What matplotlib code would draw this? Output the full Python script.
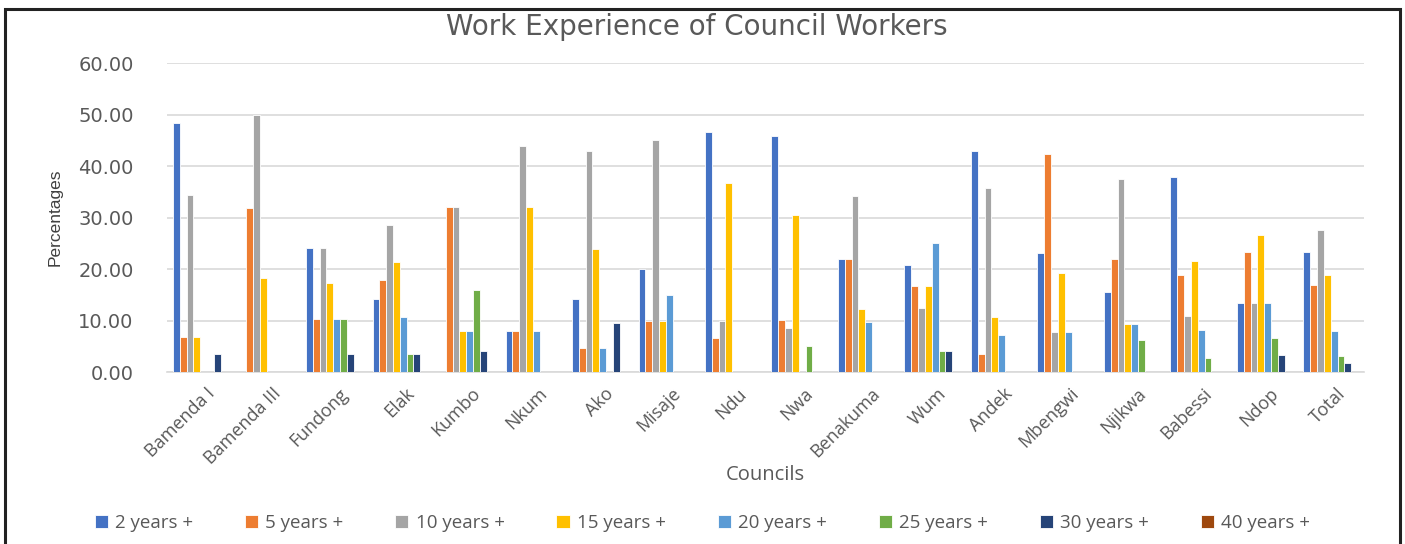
import numpy as np
import matplotlib
matplotlib.use("Agg")
import matplotlib.pyplot as plt
from matplotlib.patches import Rectangle

councils = ["Bamenda I", "Bamenda III", "Fundong", "Elak", "Kumbo", "Nkum", "Ako",
            "Misaje", "Ndu", "Nwa", "Benakuma", "Wum", "Andek", "Mbengwi", "Njikwa",
            "Babessi", "Ndop", "Total"]
groups = ["2 years +", "5 years +", "10 years +", "15 years +", "20 years +",
          "25 years +", "30 years +", "40 years +"]

# percentage of workers per council in each experience band
yrs2 = [48.28, 0, 24.14, 14.29, 0, 8.00, 14.29, 20.00, 46.67, 45.76, 21.95, 20.83,
        42.86, 23.08, 15.63, 37.84, 13.33, 23.35]
yrs5 = [6.90, 31.82, 10.34, 17.86, 32.00, 8.00, 4.76, 10.00, 6.67, 10.17, 21.95, 16.67,
        3.57, 42.31, 21.88, 18.92, 23.33, 16.89]
yrs10 = [34.48, 50.00, 24.14, 28.57, 32.00, 44.00, 42.86, 45.00, 10.00, 8.47, 34.15, 12.50,
         35.71, 7.69, 37.50, 10.81, 13.33, 27.60]
yrs15 = [6.90, 18.18, 17.24, 21.43, 8.00, 32.00, 23.81, 10.00, 36.67, 30.51, 12.20, 16.67,
         10.71, 19.23, 9.38, 21.62, 26.67, 18.90]
yrs20 = [0, 0, 10.34, 10.71, 8.00, 8.00, 4.76, 15.00, 0, 0, 9.76, 25.00,
         7.14, 7.69, 9.38, 8.11, 13.33, 8.00]
yrs25 = [0, 0, 10.34, 3.57, 16.00, 0, 0, 0, 0, 5.08, 0, 4.17,
         0, 0, 6.25, 2.70, 6.67, 3.10]
yrs30 = [3.45, 0, 3.45, 3.57, 4.00, 0, 9.52, 0, 0, 0, 0, 4.17,
         0, 0, 0, 0, 3.33, 1.76]
yrs40 = [0] * 18

series = [yrs2, yrs5, yrs10, yrs15, yrs20, yrs25, yrs30, yrs40]
colors = ["#4472C4", "#ED7D31", "#A5A5A5", "#FFC000", "#5B9BD5", "#70AD47",
          "#264478", "#9E480E"]
txt = "#595959"

fig = plt.figure(figsize=(14.05, 5.44), dpi=100)
ax = fig.add_axes([0.1189, 0.316, 0.8519, 0.568])

x = np.arange(len(councils))
slot = 0.82 / len(series)
for i, (vals, col, name) in enumerate(zip(series, colors, groups)):
    ax.bar(x + (i - 3.5) * slot, vals, width=slot, color=col,
           edgecolor="white", linewidth=0.6, label=name, zorder=3)

ax.set_xlim(-0.5, len(councils) - 0.5)
ax.set_ylim(0, 60)
ax.set_yticks(np.arange(0, 61, 10))
ax.set_yticklabels([f"{v:.2f}" for v in np.arange(0, 61, 10)],
                   fontsize=14, color=txt, family="DejaVu Sans")
ax.tick_params(axis="y", length=0, pad=24)
ax.yaxis.grid(True, color="#D9D9D9", linewidth=1.2, zorder=0)

ax.set_xticks(x + 0.08)
ax.set_xticklabels(councils, rotation=45, ha="right", va="top",
                   rotation_mode="anchor", fontsize=13, color=txt,
                   family="Open Sans")
ax.tick_params(axis="x", length=0, pad=9)

for s in ["top", "right", "left"]:
    ax.spines[s].set_visible(False)
ax.spines["bottom"].set_color("#D9D9D9")
ax.spines["bottom"].set_linewidth(1.2)

ax.set_ylabel("Percentages", fontsize=12.5, color="#404040",
              family="Liberation Sans")
ax.yaxis.set_label_coords(-0.087, 0.5)
ax.set_xlabel("Councils", fontsize=14.5, color=txt, family="Open Sans")
ax.xaxis.set_label_coords(0.5, -0.30)

fig.suptitle("Work Experience of Council Workers", fontsize=20, color=txt,
             family="DejaVu Sans", x=0.496, y=0.951, va="center")

fig.legend(loc="center", bbox_to_anchor=(0.5, 0.038), ncol=8, frameon=False,
           prop={"family": "Open Sans", "size": 13.5}, labelcolor=txt,
           handlelength=0.7, handleheight=0.7, handletextpad=0.4,
           columnspacing=2.75)

# outer frame
fig.add_artist(Rectangle((5 / 1405, -0.05), 1395 / 1405, 1.05 - 9 / 544,
                         transform=fig.transFigure, fill=False,
                         edgecolor="#222222", linewidth=2.2))

fig.savefig("out.png", dpi=100)
